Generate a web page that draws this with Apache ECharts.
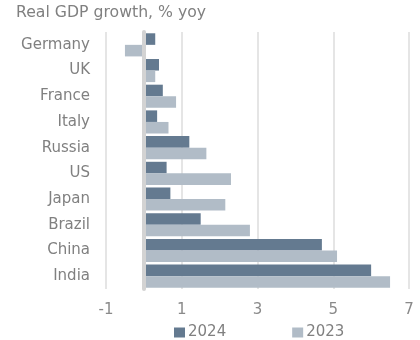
<!DOCTYPE html>
<html>
<head>
<meta charset="utf-8">
<script src="https://cdn.jsdelivr.net/npm/echarts@6/dist/echarts.min.js"></script>
<style>
  html, body { margin: 0; padding: 0; background: #fff; }
  #chart { width: 420px; height: 340px; }
</style>
</head>
<body>
<div id="chart"></div>
<script>
// Real GDP growth by country, % year on year
const countries = ['Germany', 'UK', 'France', 'Italy', 'Russia', 'US', 'Japan', 'Brazil', 'China', 'India'];
const growth2024 = [0.3, 0.4, 0.5, 0.35, 1.2, 0.6, 0.7, 1.5, 4.7, 6.0];
const growth2023 = [-0.5, 0.3, 0.85, 0.65, 1.65, 2.3, 2.15, 2.8, 5.1, 6.5];
const xTicks = [-1, 1, 3, 5, 7];

const chart = echarts.init(document.getElementById('chart'), null, { renderer: 'canvas' });
const font = '"DejaVu Sans", sans-serif';

chart.setOption({
  animation: false,
  textStyle: { fontFamily: font },
  title: {
    text: 'Real GDP growth, % yoy',
    left: 16, top: 5, padding: 0,
    textStyle: { fontFamily: font, fontSize: 15.7, fontWeight: 'normal', color: '#808080' }
  },
  legend: {
    top: 325, left: 174, padding: 0,
    itemWidth: 11, itemHeight: 10, itemGap: 66,
    icon: 'rect',
    textStyle: { fontFamily: font, fontSize: 15, color: '#808080', padding: [0, 0, 0, -2] },
    data: ['2024', '2023']
  },
  grid: { left: 106, right: 11, top: 32, bottom: 51 },
  xAxis: {
    type: 'value',
    min: xTicks[0], max: xTicks[xTicks.length - 1], interval: 2,
    axisLine: { show: false },
    axisTick: { show: false },
    splitLine: { show: true, lineStyle: { color: '#dcdcdc', width: 1.5 } },
    axisLabel: { fontFamily: font, fontSize: 15, color: '#8a8a8a', margin: 14 }
  },
  yAxis: {
    type: 'category',
    data: countries,
    inverse: true,
    z: 5,
    axisLine: { show: true, onZero: true, lineStyle: { color: '#d3d3d3', width: 4 } },
    axisTick: { show: false },
    axisLabel: { fontFamily: font, fontSize: 15, color: '#808080', margin: 16 }
  },
  series: [
    {
      name: '2024', type: 'bar', data: growth2024,
      barGap: '0%', barCategoryGap: '10%',
      itemStyle: { color: '#647a90' }
    },
    {
      name: '2023', type: 'bar', data: growth2023,
      barGap: '0%', barCategoryGap: '10%',
      itemStyle: { color: '#b1bcc7' }
    }
  ]
});
</script>
</body>
</html>
